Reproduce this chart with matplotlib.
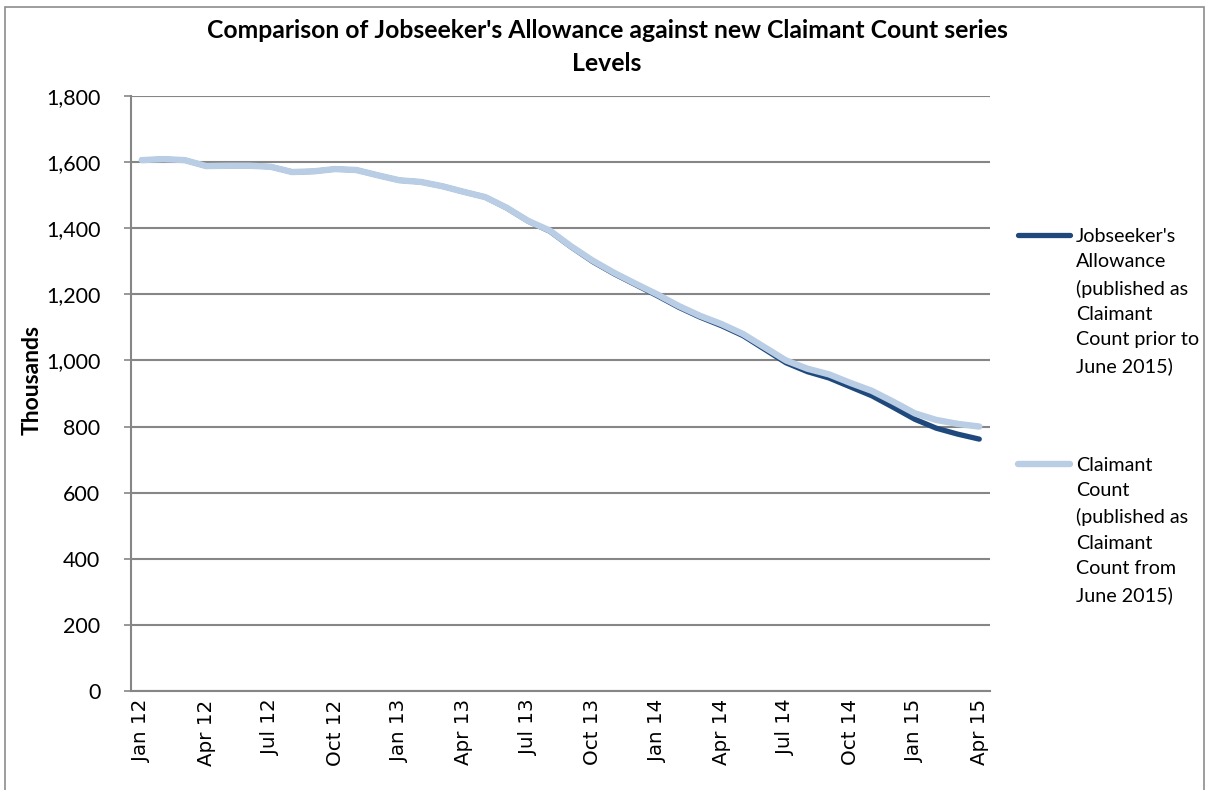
import matplotlib
matplotlib.use("Agg")
import matplotlib.pyplot as plt
from matplotlib.lines import Line2D
from matplotlib.patches import Rectangle
from matplotlib.ticker import FuncFormatter

months = ["Jan 12", "Feb 12", "Mar 12", "Apr 12", "May 12", "Jun 12", "Jul 12", "Aug 12",
          "Sep 12", "Oct 12", "Nov 12", "Dec 12", "Jan 13", "Feb 13", "Mar 13", "Apr 13",
          "May 13", "Jun 13", "Jul 13", "Aug 13", "Sep 13", "Oct 13", "Nov 13", "Dec 13",
          "Jan 14", "Feb 14", "Mar 14", "Apr 14", "May 14", "Jun 14", "Jul 14", "Aug 14",
          "Sep 14", "Oct 14", "Nov 14", "Dec 14", "Jan 15", "Feb 15", "Mar 15", "Apr 15"]

claimant_count = [1606, 1609, 1606, 1588, 1589, 1589, 1586, 1570, 1572, 1579, 1576, 1560,
                  1545, 1540, 1527, 1510, 1494, 1462, 1422, 1393, 1345, 1302, 1265, 1232,
                  1200, 1165, 1135, 1110, 1080, 1040, 1000, 975, 958, 932, 908, 875,
                  840, 820, 808, 800]

jsa = [1606, 1609, 1606, 1588, 1589, 1589, 1586, 1570, 1572, 1579, 1576, 1560,
       1545, 1540, 1527, 1510, 1494, 1461, 1421, 1391, 1343, 1299, 1262, 1229,
       1196, 1161, 1131, 1105, 1075, 1034, 993, 966, 947, 920, 893, 858,
       822, 795, 777, 762]

label_jsa = "Jobseeker's\nAllowance\n(published as\nClaimant\nCount prior to\nJune 2015)"
label_cc = "Claimant\nCount\n(published as\nClaimant\nCount from\nJune 2015)"
title = "Comparison of Jobseeker's Allowance against new Claimant Count series\nLevels"
yticks = [0, 200, 400, 600, 800, 1000, 1200, 1400, 1600, 1800]

W, H = 1207, 790
fig = plt.figure(figsize=(W / 100, H / 100), dpi=100)
L, R, T, B = 131, 990, 96, 691
ax = fig.add_axes([L / W, 1 - B / H, (R - L) / W, (B - T) / H])

dark = "#1F497D"
light = "#B9CDE5"
grid = "#868686"
x = list(range(len(months)))

ax.plot(x, jsa, color=dark, lw=3.8, solid_capstyle="round", solid_joinstyle="round", zorder=3)
ax.plot(x, claimant_count, color=light, lw=4.6, solid_capstyle="round", solid_joinstyle="round", zorder=4)

ax.set_xlim(-0.5, 39.5)
ax.set_ylim(0, 1800)
ax.set_yticks(yticks)
ax.yaxis.set_major_formatter(FuncFormatter(lambda v, p: f"{int(v):,}"))
ax.set_xticks(x[::3])
ax.set_xticklabels(months[::3], rotation=90)
for lab in ax.get_xticklabels():
    lab.set_family("DejaVu Sans")
    lab.set_fontsize(14.3)
ax.tick_params(axis="x", length=0, pad=6)
ax.tick_params(axis="y", length=5, color=grid, width=1.2, pad=17)
for lab in ax.get_yticklabels():
    lab.set_family("Lato")
    lab.set_fontsize(15.5)
ax.grid(axis="y", color=grid, lw=1.5, zorder=0)
for s in ["top", "right"]:
    ax.spines[s].set_visible(False)
for s in ["left", "bottom"]:
    ax.spines[s].set_color(grid)
    ax.spines[s].set_linewidth(1.5)

ax.set_ylabel("Thousands", fontsize=16.5, fontweight="bold", family="Lato")
ax.yaxis.set_label_coords(-(L - 43) / (R - L), (B - 380) / (B - T))

fig.text(607 / W, 1 - 47 / H, title, ha="center", va="center", fontsize=17.8,
         fontweight="bold", family="Lato", linespacing=1.55)

# legend (manual, handle aligned with first text line as in the original)
for (ly, lab, col, lw) in [(235, label_jsa, dark, 3.8), (464, label_cc, light, 4.6)]:
    fig.add_artist(Line2D([1018 / W, 1070 / W], [1 - ly / H, 1 - ly / H], color=col,
                          lw=lw, solid_capstyle="round"))
    fig.text(1076 / W, 1 - (ly - 7) / H, lab, ha="left", va="top", fontsize=14.2,
             family="Lato", linespacing=1.6)

fig.add_artist(Rectangle((5 / W, -0.01), 1199 / W, 1 - 7 / H + 0.01, transform=fig.transFigure,
                         fill=False, edgecolor="#8C8C8C", lw=1.2))

fig.savefig("out.png", dpi=100)
